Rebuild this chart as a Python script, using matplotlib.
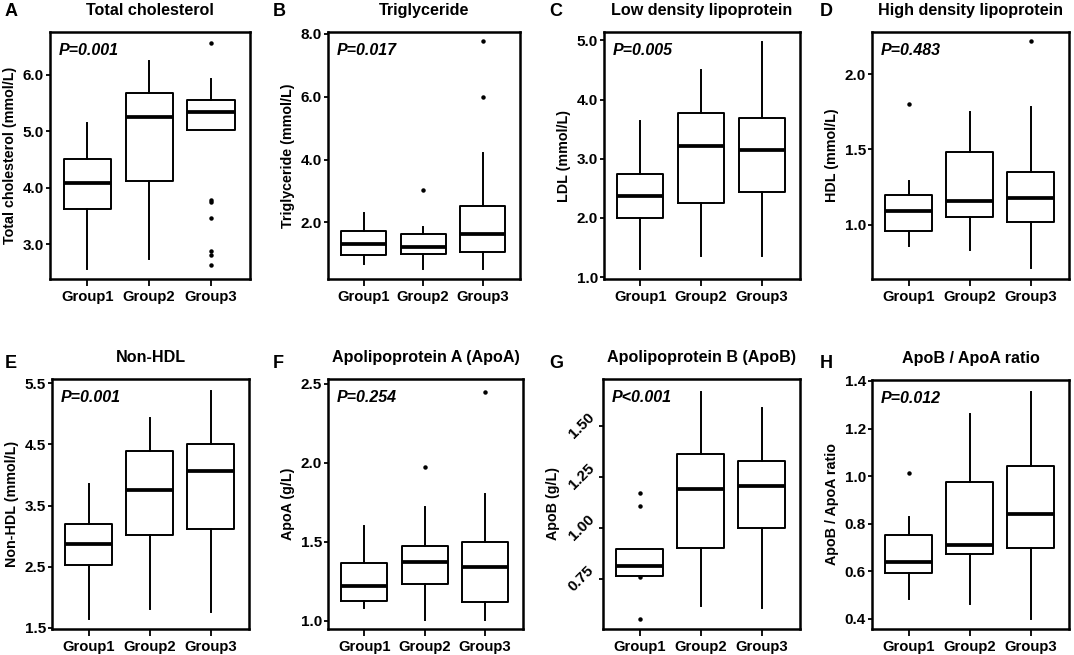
import matplotlib
matplotlib.use("Agg")
import matplotlib.pyplot as plt
from matplotlib.ticker import FormatStrFormatter

plt.rcParams['font.family'] = ['Liberation Sans', 'DejaVu Sans']
plt.rcParams['font.weight'] = 'bold'

groups = ["Group1", "Group2", "Group3"]

# Each group: (whislo, q1, med, q3, whishi, fliers)
tc = [(2.55, 3.62, 4.09, 4.51, 5.15, []),
      (2.73, 4.12, 5.26, 5.67, 6.24, []),
      (5.02, 5.02, 5.34, 5.56, 5.92, [6.57, 3.78, 3.74, 3.46, 2.88, 2.80, 2.62])]
tg = [(0.69, 0.96, 1.31, 1.74, 2.30, []),
      (0.52, 1.00, 1.22, 1.62, 1.84, [3.03]),
      (0.52, 1.05, 1.63, 2.53, 4.20, [7.77, 5.98])]
ldl = [(1.14, 2.00, 2.37, 2.74, 3.64, []),
       (1.36, 2.25, 3.21, 3.77, 4.50, []),
       (1.36, 2.44, 3.15, 3.68, 4.97, [])]
hdl = [(0.856, 0.96, 1.09, 1.20, 1.29, [1.80]),
       (0.83, 1.05, 1.16, 1.48, 1.75, []),
       (0.71, 1.02, 1.18, 1.35, 1.78, [2.22])]
nonhdl = [(1.64, 2.53, 2.87, 3.20, 3.86, []),
          (1.80, 3.01, 3.75, 4.40, 4.94, []),
          (1.75, 3.11, 4.07, 4.50, 5.38, [])]
apoa = [(1.078, 1.127, 1.22, 1.364, 1.60, []),
        (1.006, 1.23, 1.37, 1.47, 1.72, [1.97]),
        (1.006, 1.117, 1.34, 1.496, 1.80, [2.45])]
apob = [(0.765, 0.765, 0.812, 0.899, 0.899, [1.173, 1.109, 0.758, 0.556]),
        (0.618, 0.904, 1.188, 1.363, 1.667, []),
        (0.609, 1.00, 1.204, 1.328, 1.588, [])]
ratio = [(0.482, 0.591, 0.640, 0.754, 0.829, [1.011]),
         (0.461, 0.671, 0.711, 0.975, 1.261, []),
         (0.401, 0.698, 0.842, 1.043, 1.355, [])]

letters = ["A", "B", "C", "D", "E", "F", "G", "H"]
titles = ["Total cholesterol", "Triglyceride", "Low density lipoprotein",
          "High density lipoprotein", "Non-HDL", "Apolipoprotein A (ApoA)",
          "Apolipoprotein B (ApoB)", "ApoB / ApoA ratio"]
ylabels = ["Total cholesterol (mmol/L)", "Triglyceride (mmol/L)", "LDL (mmol/L)",
           "HDL (mmol/L)", "Non-HDL (mmol/L)", "ApoA (g/L)", "ApoB (g/L)",
           "ApoB / ApoA ratio"]
pvals = ["P=0.001", "P=0.017", "P=0.005", "P=0.483",
         "P=0.001", "P=0.254", "P<0.001", "P=0.012"]
datasets = [tc, tg, ldl, hdl, nonhdl, apoa, apob, ratio]
ylims = [(2.38, 6.76), (0.2, 8.06), (0.97, 5.14), (0.64, 2.28),
         (1.48, 5.57), (0.947, 2.53), (0.505, 1.729), (0.357, 1.404)]
yticks = [[3.0, 4.0, 5.0, 6.0], [2.0, 4.0, 6.0, 8.0], [1.0, 2.0, 3.0, 4.0, 5.0],
          [1.0, 1.5, 2.0], [1.5, 2.5, 3.5, 4.5, 5.5], [1.0, 1.5, 2.0, 2.5],
          [0.75, 1.00, 1.25, 1.50], [0.4, 0.6, 0.8, 1.0, 1.2, 1.4]]
yfmts = ['%.1f'] * 6 + ['%.2f', '%.1f']

W, H = 1074, 655
# pixel boxes (left, top, right, bottom)
boxes = [(50, 32, 250, 279), (328, 32, 520, 279), (604, 32, 800, 279), (872, 32, 1069, 279),
         (52, 379, 249, 629), (328, 379, 523, 629), (603, 379, 800, 629), (872, 380, 1069, 629)]

fig = plt.figure(figsize=(W / 100, H / 100), dpi=100)

for i in range(8):
    l, t, r, b = boxes[i]
    ax = fig.add_axes([l / W, 1 - b / H, (r - l) / W, (b - t) / H])
    stats = []
    for g, (lo, q1, med, q3, hi, fl) in zip(groups, datasets[i]):
        stats.append(dict(label=g, whislo=lo, q1=q1, med=med, q3=q3, whishi=hi, fliers=fl))
    ax.bxp(stats, positions=[1, 2, 3], widths=0.76, showcaps=False,
           boxprops=dict(color='black', linewidth=1.4),
           whiskerprops=dict(color='black', linewidth=1.4),
           medianprops=dict(color='black', linewidth=2.7),
           flierprops=dict(marker='o', markerfacecolor='black', markeredgecolor='black',
                           markersize=2.2, linestyle='none'))
    ax.set_xlim(0.4, 3.63)
    ax.set_ylim(*ylims[i])
    ax.set_yticks(yticks[i])
    ax.yaxis.set_major_formatter(FormatStrFormatter(yfmts[i]))
    ax.set_xticks([1, 2, 3])
    ax.set_xticklabels(groups, fontsize=10.7, fontweight='bold')
    for s in ax.spines.values():
        s.set_linewidth(1.8)
    ax.tick_params(axis='y', direction='out', length=3, width=1.3, labelsize=11, pad=1.5)
    ax.tick_params(axis='x', direction='out', length=5, width=1.3, labelsize=10.7, pad=3)
    for lab in ax.get_yticklabels():
        lab.set_fontweight('bold')
    if i == 6:
        for lab in ax.get_yticklabels():
            lab.set_rotation(45)
            lab.set_va('center')
    ax.set_ylabel(ylabels[i], fontsize=10.3, fontweight='bold', labelpad=4)
    ax.text(0.045, 0.955, pvals[i], transform=ax.transAxes, fontsize=11.5,
            fontweight='bold', fontstyle='italic', va='top', ha='left')
    ax.set_title(titles[i], fontsize=11.6, fontweight='bold', pad=12)

# panel letters
letter_pos = [(5, 11), (273, 11), (549, 11), (820, 11),
              (5, 363), (273, 363), (549, 363), (820, 363)]
for lt, (x, y) in zip(letters, letter_pos):
    fig.text(x / W, 1 - y / H, lt, fontsize=13, fontweight='bold', va='center', ha='left')

fig.savefig("out.png", dpi=100)
